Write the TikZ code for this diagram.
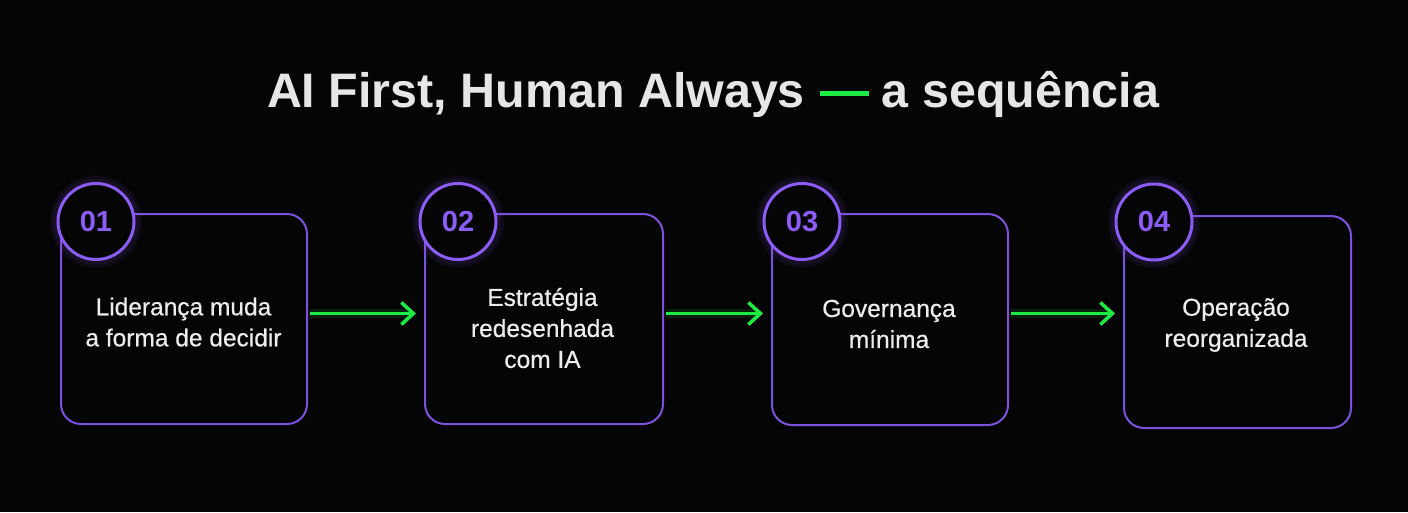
\documentclass[tikz,border=0pt]{standalone}
\usepackage{fontspec}
\setmainfont{Liberation Sans}
\newfontfamily\bodyfont[FakeBold=0.5]{Liberation Sans}
\usetikzlibrary{arrows.meta}
\definecolor{bg}{HTML}{050505}
\definecolor{boxc}{HTML}{7B52DC}
\definecolor{badgec}{HTML}{8B5CF6}
\definecolor{greenc}{HTML}{1EEB44}
\definecolor{titlec}{HTML}{E6E6E6}
\definecolor{bodyc}{HTML}{EDEDED}
\tikzset{
  stepbox/.style={draw=boxc, line width=2pt, rounded corners=20pt, fill=bg},
  badge/.style={circle, draw=badgec, line width=3pt, fill=bg, minimum size=76pt, inner sep=0pt,
    font=\fontsize{29}{29}\selectfont\bfseries, text=badgec},
  glow/.style={circle, fill=badgec, opacity=0.07, inner sep=0pt},
  label/.style={align=center, text=bodyc, font=\bodyfont\fontsize{24.5}{31}\selectfont},
  flow/.style={draw=greenc, line width=3.5pt, -{Straight Barb[length=12pt, width=22pt, line width=3.5pt]}},
  flowglow/.style={draw=greenc, line width=9pt, opacity=0.12},
}
\begin{document}
\begin{tikzpicture}[x=1pt,y=-1pt]
\fill[bg] (0,0) rectangle (1408,512);
\useasboundingbox (0,0) rectangle (1408,512);
% title
\node[text=titlec, font=\fontsize{48.4}{50}\selectfont\bfseries, anchor=base, inner sep=0pt] (title) at (713,107)
  {AI First, Human Always\hspace{15pt}\textcolor{greenc}{\rule[11.5pt]{49pt}{4.5pt}}\hspace{13pt}a sequência};
% boxes
\node[stepbox, minimum width=246pt, minimum height=210pt, anchor=north west] (b1) at (60,213) {};
\node[stepbox, minimum width=238pt, minimum height=210pt, anchor=north west] (b2) at (424,213) {};
\node[stepbox, minimum width=236pt, minimum height=211pt, anchor=north west] (b3) at (771,213) {};
\node[stepbox, minimum width=227pt, minimum height=212pt, anchor=north west] (b4) at (1123,215) {};
% glows
\foreach \cx/\cy in {96/221.5, 458/221.5, 802/221.5, 1154/222}{
  \node[glow, minimum size=92pt] at (\cx,\cy) {};
  \node[glow, minimum size=86pt] at (\cx,\cy) {};
}
% badges
\node[badge] (n1) at (96,221.5) {01};
\node[badge] (n2) at (458,221.5) {02};
\node[badge] (n3) at (802,221.5) {03};
\node[badge] (n4) at (1154,222) {04};
% texts
\node[label] (t1) at (183.5,322) {Liderança muda\\a forma de decidir};
\node[label] (t2) at (542.5,328) {Estratégia\\redesenhada\\com IA};
\node[label] (t3) at (889,324) {Governança\\mínima};
\node[label] (t4) at (1236,325) {Operação\\reorganizada};
% arrows
\foreach \a/\b in {b1/b2, b2/b3, b3/b4}{
  \draw[flowglow] ([xshift=2pt]\a.east |- 0,313.5) -- ([xshift=-12pt]\b.west |- 0,313.5);
  \draw[flow] ([xshift=2pt]\a.east |- 0,313.5) -- ([xshift=-8pt]\b.west |- 0,313.5);
}
\end{tikzpicture}
\end{document}
